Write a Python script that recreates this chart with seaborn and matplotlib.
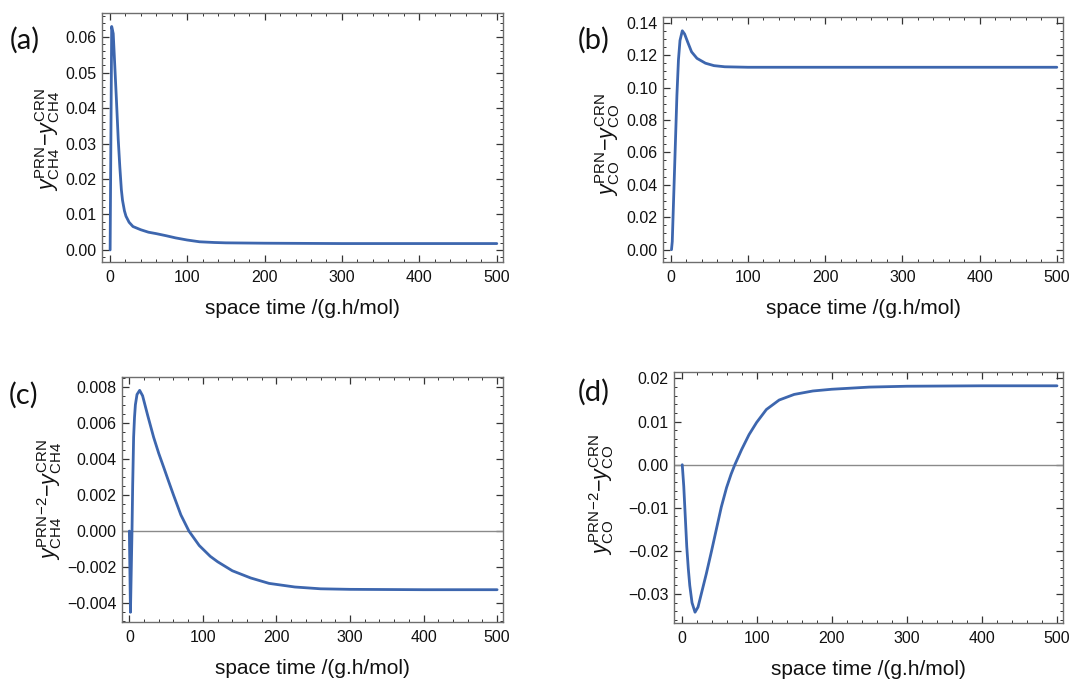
import numpy as np
import pandas as pd
import matplotlib
matplotlib.use("Agg")
import matplotlib.pyplot as plt
from matplotlib.ticker import MultipleLocator, FuncFormatter
import seaborn as sns

# ---------------- data ----------------
a_x = [0.5, 2.5, 4.5, 6.5, 8.7, 11, 13, 15, 16.5, 19, 21, 25, 30, 40, 50, 60, 73, 85, 100, 116, 135, 150, 200, 300, 400, 500]
a_y = [0.0, 0.063, 0.061, 0.052, 0.042, 0.031, 0.0235, 0.017, 0.014, 0.011, 0.0095, 0.0078, 0.0066, 0.0057,
       0.005, 0.0046, 0.0040, 0.0034, 0.0028, 0.0023, 0.0021, 0.0020, 0.0019, 0.0018, 0.0018, 0.0018]

b_x = [1, 2, 4, 6, 8, 10, 12, 15, 18, 22, 27, 34, 45, 56, 70, 100, 200, 300, 400, 500]
b_y = [0.0, 0.005, 0.035, 0.065, 0.095, 0.117, 0.129, 0.135, 0.133, 0.128, 0.122, 0.118, 0.115, 0.1135,
       0.1128, 0.1125, 0.1125, 0.1125, 0.1125, 0.1125]

c_x = [0, 1.5, 3.6, 4.5, 5.8, 7, 8.2, 10.4, 14, 18, 25, 33, 40, 47, 53, 60, 70, 81, 95, 110, 120, 140,
       165, 190, 225, 260, 300, 400, 500]
c_y = [0.0, -0.0045, 0.0, 0.0025, 0.0052, 0.0063, 0.0070, 0.00757, 0.0078, 0.0075, 0.0064, 0.0052, 0.0043,
       0.0035, 0.0028, 0.0020, 0.0009, 0.0, -0.0008, -0.0014, -0.0017, -0.0022, -0.0026, -0.0029, -0.0031,
       -0.0032, -0.00323, -0.00325, -0.00325]

d_x = [1, 3, 5, 7, 9, 11, 14, 18, 22, 27, 33, 40, 47, 53, 60, 66, 71, 80, 90, 100, 113, 130, 150, 175,
       200, 250, 300, 400, 500]
d_y = [0.0, -0.005, -0.012, -0.019, -0.024, -0.028, -0.032, -0.0342, -0.033, -0.0295, -0.0253, -0.020,
       -0.0145, -0.0098, -0.0053, -0.0022, 0.0, 0.0035, 0.0070, 0.0098, 0.0128, 0.0150, 0.0163, 0.0171,
       0.0175, 0.0180, 0.0182, 0.0183, 0.0183]

panel_labels = ["(a)", "(b)", "(c)", "(d)"]
x_label = "space time /(g.h/mol)"
y_labels = [
    r"$y^{\mathrm{PRN}}_{\mathrm{CH4}}\mathrm{-}y^{\mathrm{CRN}}_{\mathrm{CH4}}$",
    r"$y^{\mathrm{PRN}}_{\mathrm{CO}}\mathrm{-}y^{\mathrm{CRN}}_{\mathrm{CO}}$",
    r"$y^{\mathrm{PRN\!-\!2}}_{\mathrm{CH4}}\mathrm{-}y^{\mathrm{CRN}}_{\mathrm{CH4}}$",
    r"$y^{\mathrm{PRN\!-\!2}}_{\mathrm{CO}}\mathrm{-}y^{\mathrm{CRN}}_{\mathrm{CO}}$",
]

# ---------------- style ----------------
sns.set_style("white")
plt.rcParams["font.family"] = ["Liberation Sans", "DejaVu Sans"]
plt.rcParams["mathtext.fontset"] = "custom"
plt.rcParams["mathtext.rm"] = "Liberation Sans"
plt.rcParams["mathtext.it"] = "Liberation Sans:italic"
plt.rcParams["mathtext.bf"] = "Liberation Sans:bold"

LINE = "#3d66ae"
FRAME = "#6e6e6e"

fig = plt.figure(figsize=(10.69, 6.80), dpi=100)
W, H = 1069, 680

def box(l, r, t, b):
    return [l / W, 1 - b / H, (r - l) / W, (b - t) / H]

specs = [
    dict(pos=box(102, 503, 13, 262), x=a_x, y=a_y, ylim=(-0.0034, 0.0668), major=0.01, minor=0.002,
         fmt="%.2f", zero=False, lab=(10, 40), ylab=(48, 140)),
    dict(pos=box(663, 1063, 17, 262), x=b_x, y=b_y, ylim=(-0.0076, 0.1435), major=0.02, minor=0.005,
         fmt="%.2f", zero=False, lab=(578, 40), ylab=(608, 145)),
    dict(pos=box(122, 503, 377, 622), x=c_x, y=c_y, ylim=(-0.00504, 0.00854), major=0.002, minor=0.0005,
         fmt="%.3f", zero=True, lab=(9, 395), ylab=(50, 500)),
    dict(pos=box(674, 1063, 372, 623), x=d_x, y=d_y, ylim=(-0.0367, 0.0215), major=0.01, minor=0.002,
         fmt="%.2f", zero=True, lab=(578, 392), ylab=(602, 495)),
]

for i, s in enumerate(specs):
    ax = fig.add_axes(s["pos"])
    df = pd.DataFrame({"t": s["x"], "v": s["y"]})
    if s["zero"]:
        ax.axhline(0, color="#8a8a8a", lw=1.0, zorder=1)
    sns.lineplot(data=df, x="t", y="v", ax=ax, color=LINE, lw=2.0, estimator=None, sort=False, zorder=3)
    ax.set_xlim(-10, 508)
    ax.set_ylim(*s["ylim"])
    ax.xaxis.set_major_locator(MultipleLocator(100))
    ax.xaxis.set_minor_locator(MultipleLocator(20))
    ax.yaxis.set_major_locator(MultipleLocator(s["major"]))
    ax.yaxis.set_minor_locator(MultipleLocator(s["minor"]))
    f = s["fmt"]
    def _fmt(v, pos, f=f):
        txt = f % v
        if float(txt) == 0:
            txt = f % 0.0
        return txt.replace("-", "\u2212")
    ax.yaxis.set_major_formatter(FuncFormatter(_fmt))
    ax.tick_params(which="both", direction="in", top=True, right=True, left=True, bottom=True,
                   color="#333333", labelsize=11.5, labelcolor="#111111")
    ax.tick_params(which="major", length=5, width=0.9)
    ax.tick_params(which="minor", length=2.5, width=0.7)
    ax.tick_params(axis="y", which="major", pad=4)
    ax.tick_params(axis="x", which="major", pad=6)
    for sp in ax.spines.values():
        sp.set_color(FRAME)
        sp.set_linewidth(1.0)
    ax.set_xlabel(x_label, fontsize=15, color="#111111", labelpad=10)
    ax.set_ylabel("")
    fig.text(s["ylab"][0] / W, 1 - s["ylab"][1] / H, y_labels[i], rotation=90, fontsize=15.5,
             ha="center", va="center", color="#111111")
    fig.text(s["lab"][0] / W, 1 - s["lab"][1] / H, panel_labels[i], fontsize=21, family="Lato",
             ha="left", va="center", color="#111111")

fig.savefig("out.png", dpi=100, facecolor="white")
